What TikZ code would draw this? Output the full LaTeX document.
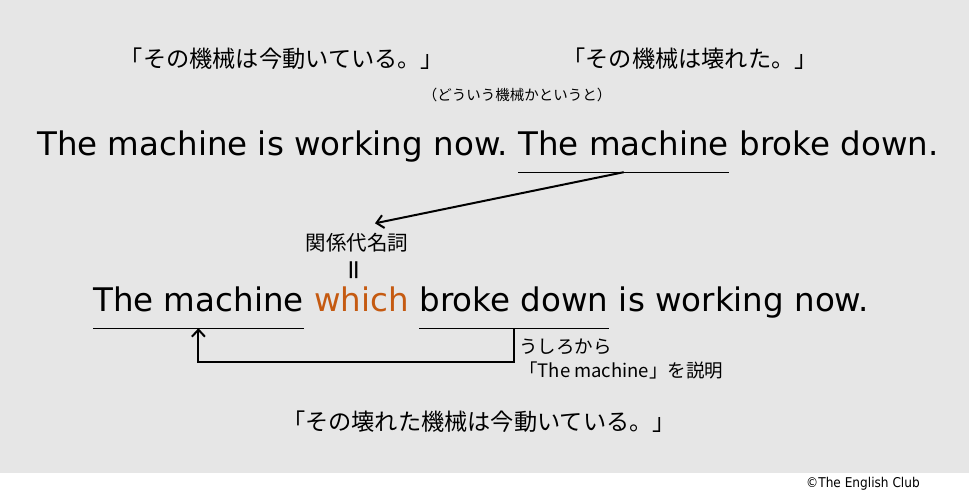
\documentclass[tikz,border=0pt]{standalone}
\usepackage{fontspec}
\setmainfont{DejaVu Sans}
\newfontfamily\jpfont{Noto Sans CJK JP}
\newfontfamily\creditfont{DejaVu Sans Condensed}
\usetikzlibrary{arrows.meta, calc, positioning}
\definecolor{bggray}{HTML}{E6E6E6}
\definecolor{relorange}{HTML}{C55A11}
\tikzstyle{word} = [inner sep=0pt, text height=24pt, text depth=8pt, font=\fontsize{32.5}{38}\selectfont]
\tikzstyle{jptext} = [inner sep=0pt, font=\jpfont\fontsize{23.2}{27}\selectfont]
\tikzstyle{note} = [inner sep=0pt, align=left, font=\jpfont\fontsize{18.5}{24}\selectfont]
\tikzstyle{underline} = [line width=1.3pt]
\tikzstyle{arrow} = [line width=2pt,-{Straight Barb[length=7pt,width=13pt]}]

\begin{document}
\begin{tikzpicture}[x=1pt, y=-1pt, node distance = 10.2pt]
	\fill [bggray] (0,0) rectangle (969,473);
	\useasboundingbox (0,0) rectangle (969,500);
	\node (Now) [jptext] at (282,59) {「その機械は今動いている。」};
	\node (Broken) [jptext] at (690,59) {「その機械は壊れた。」};
	\node (Aside) [inner sep=0pt, font=\jpfont\fontsize{14.5}{17}\selectfont] at (517,95) {（どういう機械かというと）};
	\node (Working) [word, anchor=base west] at (37,155) {The machine is working now.};
	\node (Machine) [word, right = of Working] {The machine};
	\node (Down) [word, right = of Machine] {broke down.};
	\node (Kankei) [jptext, font=\jpfont\fontsize{20.5}{24}\selectfont] at (357,243) {関係代名詞};
	\node (Equal) [inner sep=0pt, rotate=90, font=\fontsize{27}{30}\selectfont] at (356,270) {=};
	\node (TheMachine) [word, anchor=base west] at (93,311) {The machine};
	\node (Which) [word, text=relorange, right = of TheMachine] {which};
	\node (BrokeDown) [word, right = of Which] {broke down};
	\node (Rest) [word, right = of BrokeDown] {is working now.};
	\draw [underline] ([yshift=-9pt]Machine.south west) -- ([yshift=-9pt]Machine.south east);
	\draw [underline] ([yshift=-9pt]TheMachine.south west) -- ([yshift=-9pt]TheMachine.south east);
	\draw [underline] ([yshift=-9pt]BrokeDown.south west) -- ([yshift=-9pt]BrokeDown.south east);
	\draw [arrow] ([yshift=-9pt]Machine.south) -- ([xshift=18pt,yshift=10pt]Kankei.north);
	\draw [arrow] ([yshift=-9pt]BrokeDown.south) -- ++(0,-34pt) -| ([yshift=-9pt]TheMachine.south);
	\node (Explain) [note, anchor=north west] at (519,339) {うしろから\\「The machine」を説明};
	\node (Result) [jptext] at (479,422) {「その壊れた機械は今動いている。」};
	\node (Credit) [inner sep=0pt, anchor=east, font=\creditfont\fontsize{13.5}{16}\selectfont] at (920,484) {©The English Club};
\end{tikzpicture}
\end{document}
